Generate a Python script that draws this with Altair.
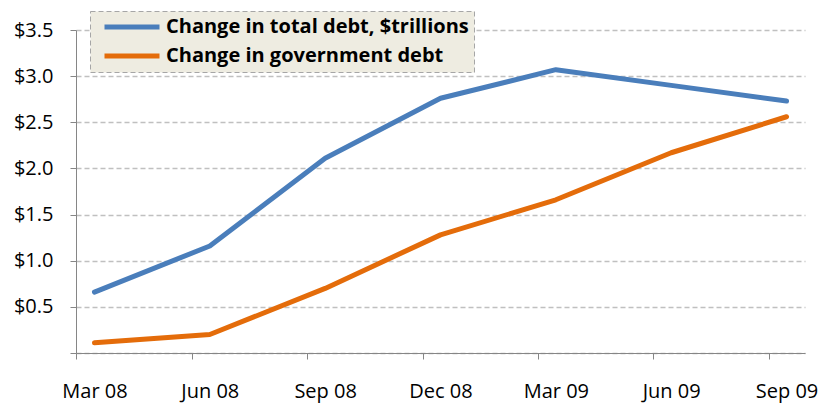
import altair as alt
import pandas as pd

quarters = ["Mar 08", "Jun 08", "Sep 08", "Dec 08", "Mar 09", "Jun 09", "Sep 09"]
total_debt = [0.66, 1.16, 2.11, 2.76, 3.07, 2.90, 2.73]
gov_debt = [0.11, 0.20, 0.70, 1.28, 1.66, 2.17, 2.56]
series_names = ["Change in total debt, $trillions", "Change in government debt"]
series_colors = ["#4a7ebb", "#e46c0a"]
y_ticks = [0.0, 0.5, 1.0, 1.5, 2.0, 2.5, 3.0, 3.5]

rows = []
for q, v in zip(quarters, total_debt):
    rows.append({"quarter": q, "value": v, "series": series_names[0]})
for q, v in zip(quarters, gov_debt):
    rows.append({"quarter": q, "value": v, "series": series_names[1]})
df = pd.DataFrame(rows)

FONT = "Open Sans"

chart = alt.Chart(df).mark_line(strokeWidth=5, strokeCap="round", strokeJoin="round").encode(
    x=alt.X(
        "quarter:O",
        sort=quarters,
        scale=alt.Scale(type="point", padding=0.16),
        axis=alt.Axis(
            title=None, labelAngle=0, tickOffset=-18, labelOffset=18,
            domainColor="#868686", tickColor="#868686", tickSize=6,
            labelFont=FONT, labelFontSize=20, labelColor="black",
            labelPadding=22, grid=False, zindex=1,
        ),
    ),
    y=alt.Y(
        "value:Q",
        scale=alt.Scale(domain=[0, 3.5], nice=False),
        axis=alt.Axis(
            title=None, values=y_ticks,
            labelExpr="datum.value == 0 ? '' : '$' + format(datum.value, '.1f')",
            domainColor="#868686", tickColor="#868686", tickSize=6,
            labelFont=FONT, labelFontSize=20, labelColor="black", labelPadding=17,
            grid=True, gridColor="#c0c0c0", gridDash=[5, 3], gridWidth=1.3,
        ),
    ),
    color=alt.Color(
        "series:N",
        sort=series_names,
        scale=alt.Scale(domain=series_names, range=series_colors),
        legend=alt.Legend(
            title=None, orient="none", legendX=14, legendY=-19,
            fillColor="#eeece1", strokeColor="#a6a6a6",
            padding=5, symbolOffset=7, symbolType="stroke", symbolSize=3025,
            symbolStrokeWidth=5, clipHeight=22, rowPadding=7,
            labelFont=FONT, labelFontSize=20, labelFontWeight="bold",
            labelColor="black", labelLimit=0, labelOffset=4,
        ),
    ),
).properties(
    width=729, height=323,
    padding={"left": 76, "top": 30, "right": 14, "bottom": 51},
    autosize=alt.AutoSizeParams(type="none"),
).configure_view(stroke=None).configure_legend(strokeDash=[5, 3])

chart.save("out.html", embed_options={"renderer": "svg", "actions": False})
